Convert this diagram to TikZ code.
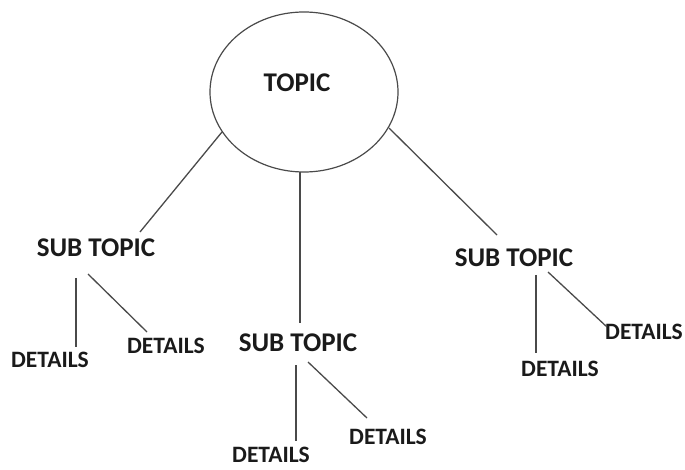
\documentclass[tikz,border=0pt]{standalone}
\usepackage{fontspec}
\setmainfont{Carlito}
\usetikzlibrary{shapes.geometric}
\definecolor{ink}{HTML}{1A1A1A}
\definecolor{wire}{HTML}{4A4A4A}
\begin{document}
\begin{tikzpicture}[x=1pt,y=-1pt,
  lbl/.style={font=\bfseries\fontsize{27}{27}\selectfont, text=ink, inner sep=0pt},
  det/.style={font=\bfseries\fontsize{23.5}{23.5}\selectfont, text=ink, inner sep=0pt},
  conn/.style={draw=wire, line width=1.3pt}]
\useasboundingbox (0,0) rectangle (685,470);
\fill[white] (0,0) rectangle (685,470);
% topic
\node[ellipse, draw=wire, line width=1.2pt, minimum width=188pt, minimum height=160pt, inner sep=0pt] (topic) at (304,92) {};
\node[lbl] (topictext) at (297,83) {TOPIC};
% sub topics
\node[lbl] (s1) at (96,248) {SUB TOPIC};
\node[lbl] (s2) at (298,343) {SUB TOPIC};
\node[lbl] (s3) at (514,258) {SUB TOPIC};
% details
\node[det] (d1a) at (50,360) {DETAILS};
\node[det] (d1b) at (166,346) {DETAILS};
\node[det] (d2a) at (271,455) {DETAILS};
\node[det] (d2b) at (388,437) {DETAILS};
\node[det] (d3a) at (560,369) {DETAILS};
\node[det] (d3b) at (644,332) {DETAILS};
% connector ends
\coordinate (t1) at (222,132);
\coordinate (t2) at (300,172);
\coordinate (t3) at (389,128);
\coordinate (e1) at (140,232);
\coordinate (e2) at (300,323);
\coordinate (e3) at (497,235);
\coordinate (s1v) at (76,278);  \coordinate (d1av) at (76,347);
\coordinate (s1d) at (88,274);  \coordinate (d1bd) at (147,332);
\coordinate (s2v) at (296,365); \coordinate (d2av) at (296,441);
\coordinate (s2d) at (308,362); \coordinate (d2bd) at (367,418);
\coordinate (s3v) at (536,275); \coordinate (d3av) at (536,353);
\coordinate (s3d) at (548,272); \coordinate (d3bd) at (607,327);
% connectors
\draw[conn] (t1) -- (e1);
\draw[conn] (t2) -- (e2);
\draw[conn] (t3) -- (e3);
\draw[conn] (s1v) -- (d1av);
\draw[conn] (s1d) -- (d1bd);
\draw[conn] (s2v) -- (d2av);
\draw[conn] (s2d) -- (d2bd);
\draw[conn] (s3v) -- (d3av);
\draw[conn] (s3d) -- (d3bd);
\end{tikzpicture}
\end{document}
